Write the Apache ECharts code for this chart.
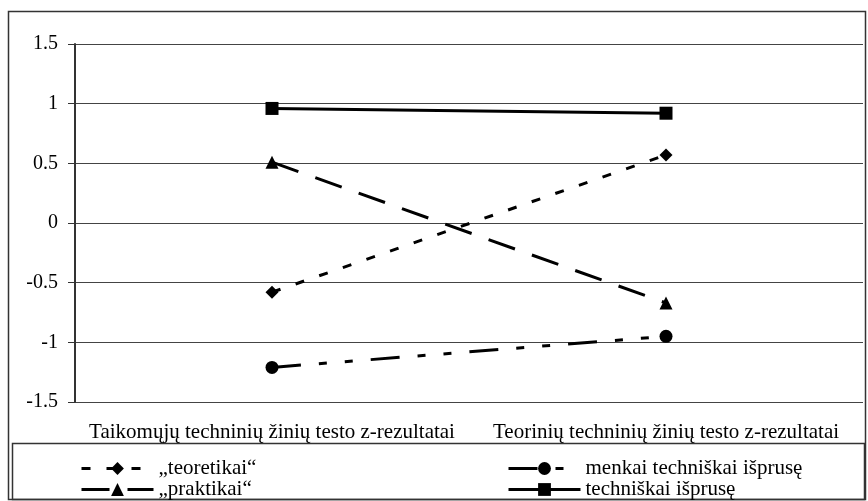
<!DOCTYPE html>
<html>
<head>
<meta charset="utf-8">
<script src="https://cdn.jsdelivr.net/npm/echarts@6/dist/echarts.min.js"></script>
<style>
  html, body { margin: 0; padding: 0; background: #fff; }
  #chart { width: 868px; height: 501px; }
</style>
</head>
<body>
<div id="chart"></div>
<script>
// Test categories (x axis)
const categories = [
  'Taikomųjų techninių žinių testo z-rezultatai',
  'Teorinių techninių žinių testo z-rezultatai'
];

// Group names
const seriesNames = ['„teoretikai“', '„praktikai“', 'menkai techniškai išprusę', 'techniškai išprusę'];

// Mean z-scores per group
const teoretikai = [-0.58, 0.57];
const praktikai = [0.51, -0.67];
const menkai = [-1.21, -0.95];
const techniskai = [0.96, 0.92];

// Y axis range
const yMin = -1.5;
const yMax = 1.5;
const yStep = 0.5;

const FONT = '"Liberation Serif", "Times New Roman", serif';

const chart = echarts.init(document.getElementById('chart'), null, { renderer: 'canvas' });

function lineSeries(name, data, symbol, dash) {
  return {
    name: name,
    type: 'line',
    data: data,
    symbol: symbol,
    symbolSize: 13,
    showSymbol: true,
    animation: false,
    lineStyle: { color: '#000', width: 3, type: dash, cap: 'butt' },
    itemStyle: { color: '#000', borderWidth: 0 }
  };
}

// One legend entry per component so the 2x2 layout is fixed
function legendItem(left, top, name) {
  return {
    left: left,
    top: top,
    padding: 0,
    itemWidth: 72,
    itemHeight: 16,
    lineStyle: { width: 3 },
    textStyle: { fontFamily: FONT, fontSize: 21, lineHeight: 16, color: '#000' },
    data: [name]
  };
}

chart.setOption({
  backgroundColor: '#fff',
  animation: false,
  textStyle: { fontFamily: FONT, color: '#000' },
  graphic: [
    {
      type: 'rect',
      shape: { x: 8.5, y: 11.5, width: 857, height: 488 },
      style: { fill: 'none', stroke: '#333', lineWidth: 1.5 },
      z: -1
    },
    {
      type: 'rect',
      shape: { x: 12.5, y: 443.5, width: 852, height: 56 },
      style: { fill: 'none', stroke: '#333', lineWidth: 1.5 },
      z: -1
    }
  ],
  grid: { left: 75, right: 5, top: 44, bottom: 99, containLabel: false },
  xAxis: {
    type: 'category',
    data: categories,
    boundaryGap: true,
    axisLine: { show: false },
    axisTick: { show: false },
    axisLabel: { color: '#000', fontFamily: FONT, fontSize: 21, margin: 20, interval: 0 },
    splitLine: { show: false }
  },
  yAxis: {
    type: 'value',
    min: yMin,
    max: yMax,
    interval: yStep,
    axisLine: { show: true, lineStyle: { color: '#333', width: 2 } },
    axisTick: { show: true, inside: false, length: 7, lineStyle: { color: '#333', width: 1 } },
    axisLabel: { color: '#000', fontFamily: FONT, fontSize: 20, margin: 17 },
    splitLine: { show: true, lineStyle: { color: '#444', width: 1 } }
  },
  legend: [
    legendItem(80, 458, seriesNames[0]),
    legendItem(80, 479, seriesNames[1]),
    legendItem(507, 458, seriesNames[2]),
    legendItem(507, 479, seriesNames[3])
  ],
  series: [
    lineSeries(seriesNames[0], teoretikai, 'diamond', [9, 16]),
    lineSeries(seriesNames[1], praktikai, 'triangle', [28, 18]),
    lineSeries(seriesNames[2], menkai, 'circle', [29, 18, 8, 18, 8, 18]),
    lineSeries(seriesNames[3], techniskai, 'rect', 'solid')
  ]
});
</script>
</body>
</html>
